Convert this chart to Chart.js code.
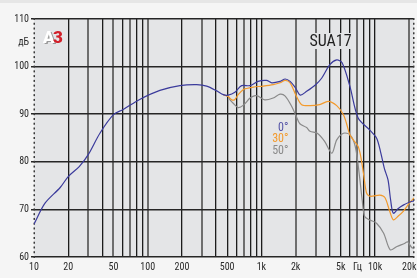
<!DOCTYPE html>
<html><head><meta charset="utf-8">
<script src="https://cdn.jsdelivr.net/npm/chart.js@4/dist/chart.umd.min.js"></script>
<style>html,body{margin:0;padding:0;background:#f5f5f5;overflow:hidden}canvas{display:block}</style>
</head><body><canvas id="c" width="417" height="278"></canvas>
<script>
const FONT = "'Liberation Sans Narrow','Roboto Condensed','DejaVu Sans Condensed',Roboto,sans-serif";

const seriesLabels = ['0°', '30°', '50°'];
const seriesColors = ['#3b3b9c', '#f39a2c', '#8a8a8a'];

const freq0 = [10, 12.5, 17, 20, 25, 30, 38, 50, 61, 85, 128, 192, 270, 330, 405, 463, 510, 585, 670, 795, 935, 1110, 1235, 1460, 1620, 1790, 2000, 2200, 2500, 3000, 3400, 4000, 4600, 5130, 6000, 7100, 8950, 10300, 11200, 12100, 13000, 13700, 14450, 16000, 17700, 20000, 22000];
const db0   = [66.9, 71.3, 74.6, 76.9, 79.0, 81.5, 86.0, 89.9, 91.0, 93.1, 95.0, 96.0, 96.2, 95.9, 94.9, 94.1, 94.0, 94.6, 96.0, 96.0, 96.9, 97.1, 96.6, 96.9, 97.4, 96.9, 95.5, 94.0, 94.8, 96.2, 97.6, 100.4, 101.4, 100.8, 95.9, 89.2, 86.7, 85.0, 82.0, 78.5, 76.2, 72.0, 69.2, 70.2, 70.9, 71.5, 71.8];

const freq30 = [463, 510, 550, 585, 625, 695, 740, 850, 1040, 1270, 1460, 1620, 1790, 2030, 2260, 2680, 3250, 3870, 4600, 5270, 5600, 6000, 6440, 7100, 7500, 7900, 8400, 8900, 9600, 11000, 12200, 13500, 14500, 16000, 17700, 20000, 22000];
const db30   = [94.1, 93.7, 93.0, 93.1, 94.1, 95.2, 95.4, 95.7, 95.9, 96.2, 96.6, 97.1, 96.6, 93.8, 92.0, 91.8, 92.0, 92.7, 91.8, 89.9, 88.1, 85.7, 84.6, 83.2, 81.0, 77.6, 73.5, 72.8, 72.8, 73.0, 72.5, 69.5, 67.8, 68.6, 69.6, 71.3, 72.4];

const freq50 = [463, 510, 530, 565, 625, 695, 795, 880, 935, 1070, 1270, 1460, 1620, 1850, 2030, 2180, 2500, 2680, 3100, 3600, 4170, 4600, 5270, 6000, 6700, 7300, 7700, 8100, 8950, 10300, 11900, 13600, 15600, 18300, 19300, 21000, 22000];
const db50   = [94.1, 93.7, 93.0, 92.3, 91.4, 91.9, 93.4, 93.9, 93.8, 93.0, 93.4, 94.2, 93.8, 91.6, 89.5, 88.0, 87.2, 86.4, 86.0, 84.3, 81.8, 84.6, 86.0, 85.7, 83.2, 76.9, 72.0, 68.5, 67.8, 67.1, 65.0, 61.5, 62.2, 62.9, 63.2, 62.0, 61.8];

const xTickValues = [10,20,30,40,50,60,70,80,90,100,200,300,400,500,600,700,800,900,1000,2000,3000,4000,5000,6000,7000,8000,9000,10000,20000];
const xTickLabels = {10:'10',20:'20',50:'50',100:'100',200:'200',500:'500',1000:'1k',2000:'2k',5000:'5k',7000:'Гц',10000:'10k',20000:'20k'};
const grayGridValues = [30,50,70,100,300,700,2000,3000,7000,20000];
const yTickValues = [60,70,80,90,100,105,110];
const yTickLabels = {60:'60',70:'70',80:'80',90:'90',100:'100',105:'дБ',110:'110'};
const titleText = 'SUA17';
const logoParts = ['A', '3'];

const xMin = 10, xMax = 22000, yMin = 60, yMax = 110;

const toPts = (f, d) => f.map((v, i) => ({x: v, y: d[i]}));
const seriesData = [toPts(freq0, db0), toPts(freq30, db30), toPts(freq50, db50)];

const decor = {
  id: 'decor',
  beforeDraw(chart) {
    const c = chart.ctx, a = chart.chartArea;
    c.save();
    c.fillStyle = '#f5f5f5'; c.fillRect(0, 0, chart.width, chart.height);
    c.fillStyle = '#e6e6e6'; c.fillRect(0, 0, chart.width, 3);
    c.fillStyle = '#e4e5e7'; c.fillRect(a.left, a.top, a.right - a.left, a.bottom - a.top);
    c.restore();
  },
  beforeDatasetsDraw(chart) {
    const c = chart.ctx, a = chart.chartArea, ys = chart.scales.y;
    c.save();
    c.fillStyle = '#3a3a3a';
    for (let v = yMin; v <= yMax; v++) {
      const y = ys.getPixelForValue(v);
      c.fillRect(a.left - 0.5, y - 1, 1.5, 2);
      c.fillRect(a.right - 1, y - 1, 1.5, 2);
    }
    c.fillStyle = '#e4e5e7';
    c.fillRect(306, 33, 48, 16);
    c.fillStyle = '#1e1e1e';
    c.font = '16px ' + FONT;
    c.textAlign = 'center'; c.textBaseline = 'middle';
    c.fillText(titleText, 330.5, 41.5);
    c.font = '900 17px Roboto, sans-serif';
    c.textAlign = 'left';
    c.fillStyle = '#9a9a9a';
    c.fillText(logoParts[0], 44.5, 40);
    c.fillStyle = '#ffffff';
    c.fillText(logoParts[0], 43, 38.5);
    const w = c.measureText(logoParts[0]).width;
    c.fillStyle = '#d2202a';
    c.fillText(logoParts[1], 43 + w - 1.5, 38.5);
    c.font = '12px ' + FONT;
    c.textAlign = 'right';
    const ly = [127.5, 139.2, 150.5];
    seriesLabels.forEach((t, i) => {
      c.fillStyle = i === 0 ? '#5353a6' : seriesColors[i];
      c.fillText(t, 288.5, ly[i]);
    });
    c.restore();
  }
};

new Chart(document.getElementById('c'), {
  type: 'line',
  data: {
    datasets: seriesData.map((d, i) => ({
      label: seriesLabels[i],
      data: d,
      borderColor: seriesColors[i],
      borderWidth: 1.2,
      pointRadius: 0,
      tension: 0.3,
      fill: false
    }))
  },
  options: {
    responsive: false,
    animation: false,
    events: [],
    layout: {padding: {top: 19, right: 3, left: 0, bottom: 0}},
    plugins: {legend: {display: false}, tooltip: {enabled: false}},
    scales: {
      x: {
        type: 'logarithmic', min: xMin, max: xMax, bounds: 'data',
        afterBuildTicks: s => { s.ticks = xTickValues.map(v => ({value: v})); },
        afterFit: s => { s.height = 21; s.paddingLeft = 0; s.paddingRight = 0; },
        border: {display: false},
        grid: {
          drawTicks: false,
          color: ctx => (ctx.tick && ctx.tick.value === 10) ? 'rgba(0,0,0,0)' : (ctx.tick && grayGridValues.includes(ctx.tick.value) ? '#6e6e6e' : '#1c1c1c'),
          lineWidth: ctx => (ctx.tick && grayGridValues.includes(ctx.tick.value)) ? 2 : 1.3
        },
        ticks: {
          autoSkip: false, maxRotation: 0, padding: 4,
          color: '#2a2a2a', font: {family: FONT, size: 10},
          callback: v => xTickLabels[v] !== undefined ? xTickLabels[v] : ''
        }
      },
      y: {
        min: yMin, max: yMax,
        afterBuildTicks: s => { s.ticks = yTickValues.map(v => ({value: v})); },
        afterFit: s => { s.width = 34; s.paddingTop = 0; s.paddingBottom = 0; },
        border: {display: false},
        grid: {
          drawTicks: true, tickLength: 3,
          color: ctx => (ctx.tick && ctx.tick.value === 105) ? 'rgba(0,0,0,0)' : '#262626',
          lineWidth: 1.5
        },
        ticks: {
          padding: 2, color: '#2a2a2a', font: {family: FONT, size: 10},
          callback: v => yTickLabels[v] !== undefined ? yTickLabels[v] : ''
        }
      }
    }
  },
  plugins: [decor]
});
</script>
</body></html>
